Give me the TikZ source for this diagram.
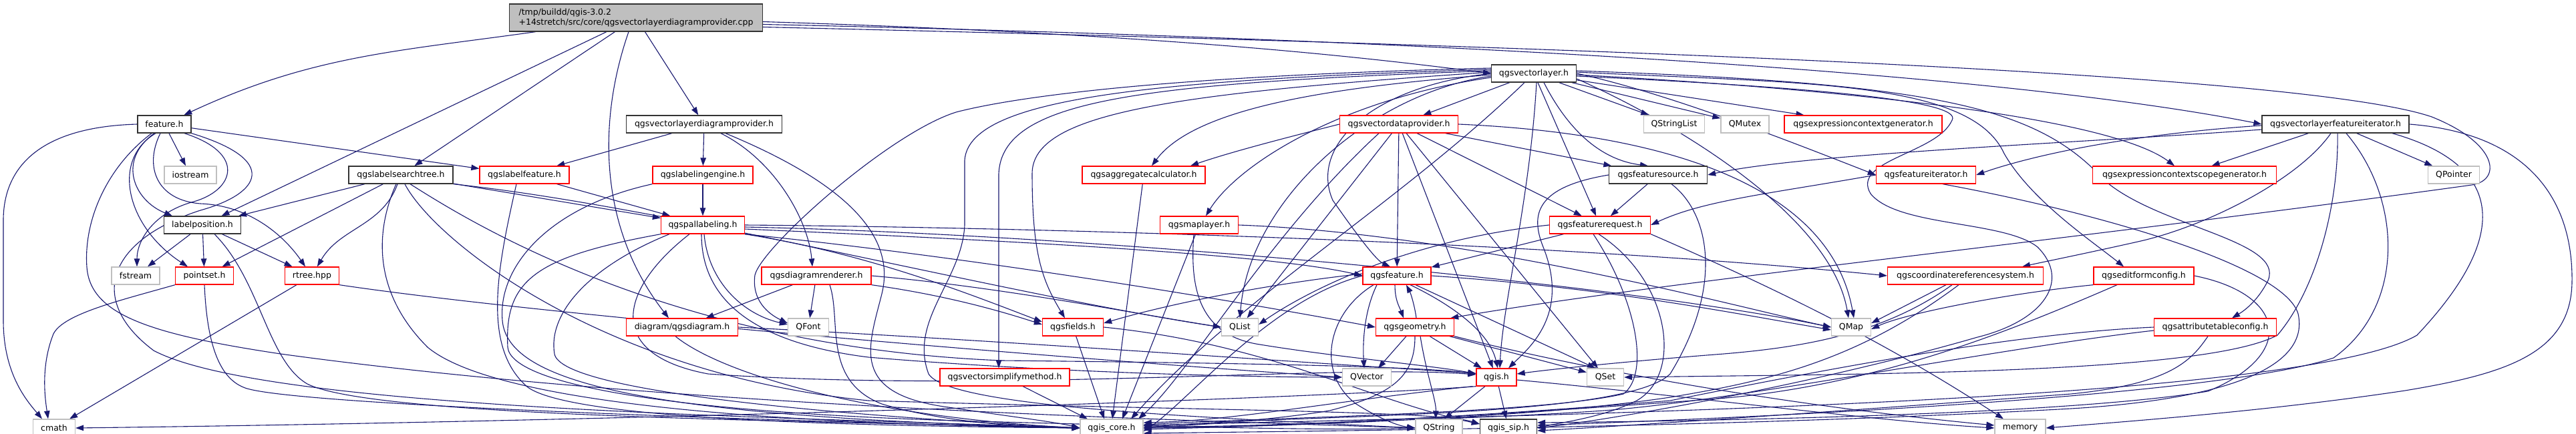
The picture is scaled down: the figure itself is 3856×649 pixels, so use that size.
\documentclass[tikz,border=0pt]{standalone}
\usepackage{fontspec}
\setmainfont{DejaVu Sans}
\usepackage{tikz}
\usetikzlibrary{arrows.meta,backgrounds}
\definecolor{edgeblue}{HTML}{191970}
\definecolor{boxgray}{HTML}{BFBFBF}
\definecolor{boxred}{HTML}{FF0000}

\begin{document}
\begin{tikzpicture}[x=1pt, y=-1pt,
  box/.style={draw, rectangle, minimum height=26pt, inner sep=0pt, line width=1.3pt, fill=white, font=\fontsize{12.5}{15}\selectfont},
  hdr/.style={box, draw=boxred, minimum width=#1},
  sys/.style={box, draw=boxgray, minimum width=#1},
  doc/.style={box, draw=black!80, minimum width=#1},
  root/.style={box, draw=black!80, fill=boxgray, minimum width=379pt, minimum height=41pt, align=left},
  dep/.style={draw=edgeblue, line width=1.1pt, -{Triangle[length=12pt,width=8.5pt]}}
]
  \useasboundingbox (0,0) rectangle (3856,649);

  % Source file (top)
  \node[root] (main) at (952,26.5) {/tmp/buildd/qgis-3.0.2\\+14stretch/src/core/qgsvectorlayerdiagramprovider.cpp};

  % Rank 1-2
  \node[doc=127] (vlayer)  at (2296,110) {qgsvectorlayer.h};
  \node[doc=80]  (feat)    at (246,186)  {feature.h};
  \node[doc=233] (vldp)    at (1054,186) {qgsvectorlayerdiagramprovider.h};
  \node[hdr=177] (vdp)     at (2094,186) {qgsvectordataprovider.h};
  \node[sys=91]  (qstrl)   at (2506,186) {QStringList};
  \node[sys=72]  (qmutex)  at (2612,186) {QMutex};
  \node[hdr=236] (ectxg)   at (2789,186) {qgsexpressioncontextgenerator.h};
  \node[doc=220] (vlfi)    at (3496,186) {qgsvectorlayerfeatureiterator.h};

  % Rank 3
  \node[sys=78]  (iostr)   at (285,262)  {iostream};
  \node[doc=156] (lst)     at (600,262)  {qgslabelsearchtree.h};
  \node[hdr=134] (lfeat)   at (785,262)  {qgslabelfeature.h};
  \node[hdr=150] (lengine) at (1052,262) {qgslabelingengine.h};
  \node[hdr=184] (aggr)    at (1712,262) {qgsaggregatecalculator.h};
  \node[doc=147] (fsrc)    at (2482,262) {qgsfeaturesource.h};
  \node[hdr=149] (fiter)   at (2883,262) {qgsfeatureiterator.h};
  \node[hdr=275] (escg)    at (3270,262) {qgsexpressioncontextscopegenerator.h};
  \node[sys=77]  (qptr)    at (3673,262) {QPointer};

  % Rank 4
  \node[doc=115] (lpos)    at (303,337)  {labelposition.h};
  \node[hdr=125] (pal)     at (1052,337) {qgspallabeling.h};
  \node[hdr=117] (mlayer)  at (1795,337) {qgsmaplayer.h};
  \node[hdr=151] (freq)    at (2395,337) {qgsfeaturerequest.h};

  % Rank 5
  \node[sys=72]  (fstr)    at (203,413)  {fstream};
  \node[hdr=87]  (pset)    at (306,413)  {pointset.h};
  \node[hdr=81]  (rtree)   at (467,413)  {rtree.hpp};
  \node[hdr=164] (drend)   at (1222,413) {qgsdiagramrenderer.h};
  \node[hdr=102] (qfeat)   at (2091,413) {qgsfeature.h};
  \node[hdr=233] (crs)     at (2942,413) {qgscoordinatereferencesystem.h};
  \node[hdr=150] (efc)     at (3209,413) {qgseditformconfig.h};

  % Rank 6
  \node[hdr=167] (diag)    at (1021,490) {diagram/qgsdiagram.h};
  \node[sys=61]  (qfont)   at (1210,490) {QFont};
  \node[hdr=91]  (fields)  at (1606,490) {qgsfields.h};
  \node[sys=55]  (qlist)   at (1856,490) {QList};
  \node[hdr=117] (geom)    at (2118,490) {qgsgeometry.h};
  \node[sys=59]  (qmap)    at (2771,490) {QMap};
  \node[hdr=183] (atc)     at (3316,490) {qgsattributetableconfig.h};

  % Rank 7-8 (bottom)
  \node[hdr=194] (vsimp)   at (1504,565) {qgsvectorsimplifymethod.h};
  \node[sys=73]  (qvec)    at (2046,565) {QVector};
  \node[hdr=60]  (qgis)    at (2240,565) {qgis.h};
  \node[sys=55]  (qset)    at (2403,565) {QSet};
  \node[sys=63]  (cmath)   at (81,641)   {cmath};
  \node[sys=94]  (core)    at (1664,641) {qgis\_core.h};
  \node[sys=70]  (qstr)    at (2154,641) {QString};
  \node[doc=85]  (sip)     at (2258,641) {qgis\_sip.h};
  \node[sys=76]  (memory)  at (3024,641) {memory};

  \begin{pgfonlayer}{background}
  % From the source file
  \draw[dep] (main) to[out=188,in=25] (feat);
  \draw[dep] (main) -- (lpos);
  \draw[dep] (main) -- (lst);
  \draw[dep] ([xshift=-11pt]main.south) .. controls (895,180) and (895,340) .. ([xshift=-20pt]diag.north);
  \draw[dep] (main) -- (vldp);
  \draw[dep] ([yshift=-6pt]main.east) .. controls (1700,50) and (2000,80) .. (vlayer.west);
  \draw[dep] ([yshift=-10pt]main.east) .. controls (2200,60) and (3000,110) .. (vlfi.west);
  \draw[dep] ([yshift=-14pt]main.east) .. controls (2400,70) and (3450,110) .. (3640,175) .. controls (3740,215) and (3745,270) .. (3700,277) .. controls (3100,360) and (2500,420) .. ([xshift=-6pt]geom.north east);

  % feature.h
  \draw[dep] (feat.west) .. controls (60,190) and (5,250) .. (5,330) -- (5,480) .. controls (5,560) and (40,600) .. ([xshift=-18pt]cmath.north);
  \draw[dep] (feat) -- (iostr);
  \draw[dep] ([xshift=-15pt]feat.south) .. controls (175,240) and (200,300) .. ([xshift=-45pt]lpos.north);
  \draw[dep] ([xshift=-13pt]feat.south) .. controls (165,240) and (190,340) .. ([xshift=-25pt]pset.north);
  \draw[dep] ([xshift=-6pt]feat.south) .. controls (215,250) and (235,300) .. (300,305) .. controls (380,308) and (430,360) .. ([xshift=-10pt]rtree.north);
  \draw[dep] ([xshift=30pt]feat.south) .. controls (370,230) and (350,285) .. (290,302) .. controls (230,318) and (205,360) .. ([xshift=2pt]fstr.north);
  \draw[dep] (feat) -- (lfeat);
  \draw[dep] ([xshift=-19pt]feat.south) .. controls (160,250) and (125,330) .. (130,400) .. controls (135,470) and (220,500) .. (420,530) .. controls (1000,610) and (1800,630) .. (qstr.west);
  \draw[dep] (feat.south east) .. controls (420,240) and (390,290) .. (300,315) .. controls (160,360) and (130,450) .. (230,525) .. controls (400,615) and (1200,625) .. (core.west);

  % labelposition.h, pointset.h, rtree.hpp
  \draw[dep] (lpos) -- (fstr);
  \draw[dep] (lpos) -- (pset);
  \draw[dep] (lpos) -- (rtree);
  \draw[dep] ([xshift=18pt]lpos.south) .. controls (390,420) and (400,540) .. (460,575) .. controls (560,625) and (1200,630) .. (core.west);
  \draw[dep] (pset.south west) .. controls (180,450) and (95,470) .. (80,500) .. controls (60,550) and (68,600) .. ([xshift=-9pt]cmath.north);
  \draw[dep] (pset.south) .. controls (310,520) and (330,570) .. (370,582) .. controls (460,608) and (1200,632) .. (core.west);
  \draw[dep] (rtree) -- (cmath);
  \draw[dep] (rtree.south east) .. controls (800,470) and (1500,530) .. (qvec.west);

  % qgslabelsearchtree.h
  \draw[dep] (lst) -- (lpos);
  \draw[dep] (lst) -- (pset);
  \draw[dep] (lst) to[out=-110,in=60] (rtree);
  \draw[dep] (lst) -- (pal);
  \draw[dep] (lst.south east) .. controls (1000,310) and (1500,440) .. (qlist.west);
  \draw[dep] ([xshift=-7pt]lst.south) .. controls (560,350) and (560,440) .. (640,520) .. controls (760,620) and (1300,636) .. (core.west);
  \draw[dep] ([xshift=6pt]lst.south) .. controls (650,360) and (900,560) .. (1300,600) .. controls (1800,615) and (2150,615) .. ([yshift=6pt]sip.west);
  \draw[dep] ([xshift=14pt]lst.south) .. controls (700,330) and (1000,520) .. (1500,540) .. controls (2000,545) and (2150,552) .. ([yshift=5pt]qgis.west);

  % qgsvectorlayerdiagramprovider.h
  \draw[dep] (vldp) -- (lfeat);
  \draw[dep] (vldp) -- (lengine);
  \draw[dep] ([xshift=25pt]vldp.south) .. controls (1160,240) and (1210,330) .. ([xshift=-6pt]drend.north);
  \draw[dep] ([xshift=32pt]vldp.south) .. controls (1280,280) and (1340,360) .. (1320,440) .. controls (1300,520) and (1270,590) .. (1420,610) .. controls (1520,625) and (1580,632) .. (core.west);

  % labelling headers
  \draw[dep] (lfeat) -- (pal);
  \draw[dep] ([xshift=-12pt]lfeat.south) .. controls (745,400) and (720,520) .. (790,580) .. controls (860,630) and (1300,638) .. (core.west);
  \draw[dep] (lengine) -- (pal);
  \draw[dep] (lengine.south west) .. controls (820,310) and (745,400) .. (752,480) .. controls (760,580) and (1000,625) .. (core.west);
  \draw[dep] ([xshift=2pt]pal.south) .. controls (1060,420) and (1110,470) .. ([yshift=4pt]qfont.west);
  \draw[dep] (pal.south west) .. controls (800,385) and (755,420) .. (760,520) .. controls (765,575) and (1000,620) .. (1500,632) .. controls (1800,640) and (2000,645) .. (qstr.west);
  \draw[dep] ([xshift=-50pt]pal.south) .. controls (880,400) and (820,470) .. (830,530) .. controls (840,590) and (1300,625) .. (core.west);
  \draw[dep] ([xshift=-20pt]pal.south) .. controls (930,430) and (900,530) .. (1060,560) .. controls (1500,590) and (2000,545) .. ([yshift=4pt]qgis.west);
  \draw[dep] ([xshift=-2pt]pal.south) .. controls (1050,430) and (1100,510) .. (1300,535) .. controls (1600,560) and (1900,565) .. (qvec.west);
  \draw[dep] (pal.east) .. controls (1500,340) and (2300,360) .. (crs.west);
  \draw[dep] ([yshift=-6pt]pal.east) .. controls (1500,360) and (1900,380) .. (qfeat.west);
  \draw[dep] (pal.south east) .. controls (1500,390) and (1900,460) .. (geom.west);
  \draw[dep] (pal.south east) .. controls (1300,380) and (1450,440) .. ([yshift=8pt]fields.west);
  \draw[dep] ([yshift=-3pt]pal.east) .. controls (1600,350) and (2400,420) .. (qmap.west);

  % diagram headers
  \draw[dep] (drend) -- (diag);
  \draw[dep] (drend) -- (qfont);
  \draw[dep] (drend.south east) .. controls (1400,440) and (1480,460) .. ([yshift=4pt]fields.west);
  \draw[dep] ([xshift=20pt]drend.south) .. controls (1260,480) and (1230,570) .. (1320,605) .. controls (1420,635) and (1550,640) .. (core.west);
  \draw[dep] (drend.east) .. controls (1500,430) and (1700,470) .. (qlist.west);
  \draw[dep] ([xshift=-10pt]diag.south) .. controls (1080,560) and (1300,625) .. (core.west);
  \draw[dep] (diag.east) .. controls (1500,510) and (1900,540) .. ([yshift=6pt]qgis.west);

  % small core headers
  \draw[dep] (aggr) -- ([xshift=1pt]core.north);
  \draw[dep] (mlayer) -- ([xshift=16pt]core.north);
  \draw[dep] ([xshift=-8pt]mlayer.south) .. controls (1780,440) and (1800,500) .. (1880,515) .. controls (2000,535) and (2150,548) .. ([yshift=5pt]qgis.west);
  \draw[dep] (mlayer.east) .. controls (2200,350) and (2600,460) .. (qmap.west);
  \draw[dep] (fields) -- ([xshift=-11pt]core.north);
  \draw[dep] (fields.east) .. controls (1900,515) and (2050,600) .. ([yshift=6pt]sip.west);
  \draw[dep] (vsimp) -- ([xshift=-36pt]core.north);

  % qgsvectorlayer.h
  \draw[dep] (vlayer) -- (vdp);
  \draw[dep] (vlayer) -- (qstrl);
  \draw[dep] (vlayer) -- (qmutex);
  \draw[dep] (vlayer) -- (ectxg);
  \draw[dep] (vlayer) -- (freq);
  \draw[dep] ([xshift=15pt]vlayer.south) .. controls (2350,200) and (2400,240) .. ([xshift=-15pt]fsrc.north);
  \draw[dep] ([xshift=4pt]vlayer.south) .. controls (2290,300) and (2250,450) .. ([xshift=5pt]qgis.north);
  \draw[dep] ([xshift=-14pt]vlayer.south) .. controls (2100,300) and (1850,450) .. ([xshift=29pt]core.north);
  \draw[dep] (vlayer.west) .. controls (2050,130) and (1960,220) .. (1995,300) .. controls (2030,350) and (2060,390) .. ([xshift=-10pt]qfeat.north);
  \draw[dep] ([yshift=-4pt]vlayer.west) .. controls (2050,140) and (1870,300) .. (qlist.north);
  \draw[dep] ([yshift=8pt]vlayer.west) .. controls (1700,115) and (1500,150) .. (1431,168) .. controls (1330,200) and (1140,370) .. (1130,412) .. controls (1125,450) and (1150,470) .. ([yshift=6pt]qfont.west);
  \draw[dep] ([yshift=-2pt]vlayer.west) .. controls (2000,130) and (1790,160) .. ([xshift=12pt]aggr.north);
  \draw[dep] ([yshift=-6pt]vlayer.west) .. controls (2000,150) and (1850,250) .. ([xshift=10pt]mlayer.north);
  \draw[dep] ([yshift=4pt]vlayer.west) .. controls (1700,125) and (1500,150) .. (1495,260) -- ([xshift=-9pt]vsimp.north);
  \draw[dep] ([yshift=2pt]vlayer.west) .. controls (1750,140) and (1545,170) .. (1545,260) .. controls (1545,380) and (1560,420) .. ([xshift=-12pt]fields.north);
  \draw[dep] ([yshift=6pt]vlayer.west) .. controls (1700,120) and (1450,150) .. (1444,240) -- (1444,337) .. controls (1440,420) and (1360,480) .. (1390,560) .. controls (1420,610) and (1800,625) .. (qstr.west);
  \draw[dep] (vlayer.east) .. controls (2500,140) and (2700,220) .. (fiter.west);
  \draw[dep] ([yshift=-2pt]vlayer.east) .. controls (2700,130) and (3150,170) .. ([xshift=-15pt]escg.north);
  \draw[dep] ([yshift=2pt]vlayer.east) .. controls (2700,125) and (2950,120) .. (3000,230) .. controls (3040,300) and (3130,360) .. ([xshift=-30pt]efc.north);
  \draw[dep] ([yshift=4pt]vlayer.east) .. controls (2900,125) and (3050,160) .. (3150,270) .. controls (3230,340) and (3420,360) .. (3395,420) .. controls (3380,450) and (3360,465) .. ([xshift=25pt]atc.north);
  \draw[dep] ([yshift=-8pt]vlayer.east) .. controls (2500,180) and (2740,320) .. ([xshift=-4pt]qmap.north);
  \draw[dep] ([yshift=-4pt]vlayer.east) .. controls (2700,130) and (2940,150) .. (2922,180) .. controls (2900,230) and (2770,240) .. (2800,290) .. controls (2840,340) and (3000,330) .. (3050,370) .. controls (3100,420) and (3060,480) .. (2960,505) .. controls (2700,580) and (2400,630) .. (sip.east);

  % qgsvectordataprovider.h
  \draw[dep] (vdp) -- (qfeat);
  \draw[dep] (vdp) -- (fsrc);
  \draw[dep] (vdp) -- (freq);
  \draw[dep] (vdp) -- (qgis);
  \draw[dep] (vdp) -- (qset);
  \draw[dep] (vdp) -- (qlist);
  \draw[dep] ([xshift=-30pt]vdp.south) .. controls (1900,350) and (1780,560) .. ([xshift=40pt]core.north);
  \draw[dep] (vdp.west) .. controls (1950,200) and (1850,225) .. ([xshift=70pt]aggr.north);
  \draw[dep] (vdp.east) .. controls (2500,200) and (2740,280) .. ([xshift=4pt]qmap.north);

  % qgsfeaturesource.h, qgsfeaturerequest.h
  \draw[dep] (fsrc) -- (freq);
  \draw[dep] (fsrc.west) .. controls (2300,280) and (2290,320) .. (2310,370) .. controls (2350,470) and (2290,520) .. ([xshift=18pt]qgis.north);
  \draw[dep] ([xshift=20pt]fsrc.south) .. controls (2560,320) and (2580,430) .. (2500,560) .. controls (2430,630) and (1900,620) .. (core.east);
  \draw[dep] (freq) -- (qfeat);
  \draw[dep] (freq.west) .. controls (2100,360) and (1950,440) .. ([yshift=4pt]qlist.east);
  \draw[dep] ([xshift=-10pt]freq.south) .. controls (2450,450) and (2470,560) .. (2430,590) .. controls (2300,620) and (1900,625) .. ([yshift=5pt]core.east);
  \draw[dep] ([xshift=-2pt]freq.south) .. controls (2500,420) and (2520,560) .. (2450,600) .. controls (2400,625) and (2340,632) .. (sip.east);
  \draw[dep] (freq.south east) .. controls (2700,450) and (2850,530) .. ([xshift=-25pt]memory.north);

  % qgsfeature.h, qgsgeometry.h
  \draw[dep] ([xshift=-3pt]qfeat.south) .. controls (2088,450) and (2095,460) .. ([xshift=-17pt]geom.north);
  \draw[dep] ([xshift=2pt]geom.north) .. controls (2118,460) and (2112,440) .. ([xshift=14pt]qfeat.south);
  \draw[dep] ([xshift=-30pt]qfeat.south) .. controls (2040,470) and (2040,520) .. ([xshift=-4pt]qvec.north);
  \draw[dep] ([xshift=20pt]qfeat.south) .. controls (2180,460) and (2230,500) .. ([xshift=2pt]qgis.north);
  \draw[dep] ([xshift=28pt]qfeat.south) -- ([xshift=-15pt]qset.north);
  \draw[dep] ([xshift=-35pt]qfeat.south) .. controls (1985,470) and (1970,560) .. (2030,605) .. controls (2070,630) and (2095,638) .. (qstr.west);
  \draw[dep] (qfeat.west) .. controls (1900,450) and (1780,600) .. ([yshift=-5pt]core.east);
  \draw[dep] (qfeat.east) .. controls (2400,430) and (2600,470) .. ([yshift=-4pt]qmap.west);
  \draw[dep] ([yshift=3pt]qfeat.west) .. controls (1900,425) and (1750,455) .. ([yshift=6pt]fields.east);
  \draw[dep] ([xshift=-13pt]geom.south) -- ([xshift=17pt]qvec.north);
  \draw[dep] (geom) -- (qgis);
  \draw[dep] (geom) -- (qset);
  \draw[dep] ([xshift=8pt]geom.south) .. controls (2135,560) and (2150,600) .. ([xshift=-5pt]qstr.north);
  \draw[dep] (geom.south) .. controls (2118,560) and (2090,590) .. (1990,615) .. controls (1900,630) and (1780,637) .. (core.east);
  \draw[dep] (geom.south east) .. controls (2400,560) and (2700,610) .. ([yshift=4pt]memory.west);

  % qgis.h
  \draw[dep] (qgis) -- ([xshift=8pt]qstr.north);
  \draw[dep] (qgis) -- (sip);
  \draw[dep] (qgis.south west) .. controls (2000,595) and (1000,630) .. (cmath.east);
  \draw[dep] ([yshift=-4pt]qgis.east) .. controls (2500,590) and (2800,630) .. (memory.west);
  \draw[dep] ([xshift=-5pt]qgis.south west) .. controls (2000,600) and (1850,630) .. ([yshift=8pt]core.east);

  % right-hand headers
  \draw[dep] (fiter.west) .. controls (2650,290) and (2550,300) .. (freq.east);
  \draw[dep] ([xshift=25pt]fiter.south) .. controls (3150,320) and (3420,400) .. (3440,470) .. controls (3460,560) and (3300,600) .. (3100,612) .. controls (2600,640) and (2000,645) .. ([yshift=-8pt]core.east);
  \draw[dep] ([yshift=-2pt]vlfi.west) .. controls (3200,200) and (3050,230) .. (fiter.east);
  \draw[dep] ([yshift=-8pt]vlfi.west) .. controls (3100,215) and (2700,230) .. (fsrc.east);
  \draw[dep] (vlfi) -- (escg);
  \draw[dep] (vlfi) -- (qptr);
  \draw[dep] ([xshift=-7pt]vlfi.south) .. controls (3440,270) and (3300,340) .. (3200,362) .. controls (3120,380) and (3060,392) .. ([xshift=85pt]crs.north);
  \draw[dep] ([xshift=3pt]vlfi.south) .. controls (3501,300) and (3470,430) .. (3409,502) .. controls (3300,560) and (2800,560) .. (qset.east);
  \draw[dep] ([xshift=16pt]vlfi.south) .. controls (3597,300) and (3600,460) .. (3493,536) .. controls (3300,600) and (2500,630) .. ([yshift=4pt]sip.east);
  \draw[dep] ([xshift=85pt]vlfi.south) .. controls (3723,240) and (3780,330) .. (3618,502) .. controls (3450,600) and (2400,620) .. ([yshift=4pt]core.east);
  \draw[dep] (vlfi.east) .. controls (3786,200) and (3851,300) .. (3850,420) .. controls (3850,530) and (3750,560) .. (3600,585) .. controls (3400,615) and (3200,630) .. (memory.east);
  \draw[dep] ([xshift=-29pt]crs.south) -- ([yshift=6pt]qmap.east);
  \draw[dep] ([xshift=-20pt]crs.south) .. controls (2820,500) and (2700,520) .. (2580,530) .. controls (2450,540) and (2330,552) .. ([yshift=5pt]qgis.east);
  \draw[dep] ([xshift=-10pt]crs.south) .. controls (2780,540) and (2650,570) .. (2500,595) .. controls (2300,625) and (2000,635) .. ([yshift=-2pt]core.east);
  \draw[dep] (efc.south west) .. controls (3000,440) and (2850,470) .. ([yshift=-3pt]qmap.east);
  \draw[dep] ([xshift=-40pt]efc.south) .. controls (3000,500) and (2800,580) .. (2560,598) .. controls (2200,625) and (1900,640) .. (core.east);
  \draw[dep] (efc.east) .. controls (3420,440) and (3440,530) .. (3305,586) .. controls (3100,620) and (2600,630) .. ([yshift=8pt]sip.east);
  \draw[dep] (atc.west) .. controls (3000,500) and (2700,560) .. (2500,600) .. controls (2200,625) and (1900,640) .. ([yshift=2pt]core.east);
  \draw[dep] ([yshift=-5pt]atc.west) .. controls (3000,520) and (2600,600) .. (2400,615) .. controls (2300,622) and (2200,625) .. ([xshift=20pt]qstr.north);
  \draw[dep] ([xshift=-11pt]atc.south) .. controls (3280,540) and (3250,575) .. (3100,590) .. controls (2700,620) and (2400,640) .. ([yshift=-4pt]sip.east);
  \end{pgfonlayer}
\end{tikzpicture}
\end{document}
